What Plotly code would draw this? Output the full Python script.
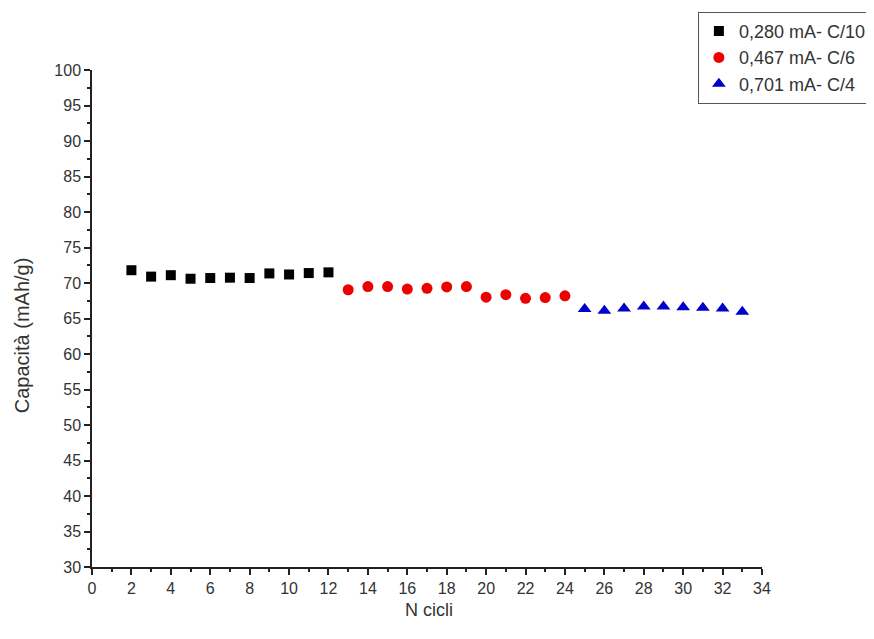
import plotly.graph_objects as go

# Data
cycles_c10 = [2, 3, 4, 5, 6, 7, 8, 9, 10, 11, 12]
cap_c10 = [71.8, 70.9, 71.1, 70.6, 70.7, 70.75, 70.7, 71.35, 71.2, 71.4, 71.5]

cycles_c6 = [13, 14, 15, 16, 17, 18, 19, 20, 21, 22, 23, 24]
cap_c6 = [69.05, 69.5, 69.5, 69.15, 69.25, 69.45, 69.5, 68.0, 68.35, 67.85, 67.95, 68.2]

cycles_c4 = [25, 26, 27, 28, 29, 30, 31, 32, 33]
cap_c4 = [66.35, 66.1, 66.4, 66.7, 66.7, 66.6, 66.5, 66.4, 65.95]

labels = ["0,280 mA- C/10", "0,467 mA- C/6", "0,701 mA- C/4"]

FONT = "Liberation Sans, Arial, sans-serif"

fig = go.Figure()
fig.add_trace(go.Scatter(x=cycles_c10, y=cap_c10, mode="markers", name=labels[0],
                         marker=dict(symbol="square", size=10, color="black")))
fig.add_trace(go.Scatter(x=cycles_c6, y=cap_c6, mode="markers", name=labels[1],
                         marker=dict(symbol="circle", size=11, color="#ee0000")))
fig.add_trace(go.Scatter(x=cycles_c4, y=cap_c4, mode="markers", name=labels[2],
                         marker=dict(symbol="triangle-up", size=12, color="#0000cc")))

axis_common = dict(showline=True, linecolor="#222", linewidth=1.5, ticks="outside",
                   ticklen=6, tickwidth=1.5, tickcolor="#222", showgrid=False,
                   zeroline=False, tickfont=dict(family=FONT, size=16, color="#333"))

fig.update_xaxes(range=[0, 34], dtick=2, tick0=0,
                 minor=dict(dtick=1, ticks="outside", ticklen=3, tickcolor="#222", tickwidth=1.5),
                 **axis_common)
fig.update_yaxes(range=[30, 100], dtick=5, tick0=30,
                 minor=dict(dtick=2.5, ticks="outside", ticklen=3, tickcolor="#222", tickwidth=1.5),
                 **axis_common)

fig.add_annotation(text="N cicli", xref="paper", yref="paper", x=0.503, y=-0.086,
                   xanchor="center", yanchor="middle", showarrow=False,
                   font=dict(family=FONT, size=18, color="#333"))
fig.add_annotation(text="Capacità (mAh/g)", xref="paper", yref="paper", x=-0.104, y=0.467,
                   xanchor="center", yanchor="middle", textangle=-90, showarrow=False,
                   font=dict(family=FONT, size=20, color="#333"))

# The page body adds an 8px offset, so the figure is 8px smaller than the window.
fig.update_layout(
    width=866, height=631,
    margin=dict(l=84, r=112, t=62, b=72, autoexpand=False),
    plot_bgcolor="white", paper_bgcolor="white",
    showlegend=True,
    legend=dict(x=1.164, xanchor="right", y=1.117, yanchor="top",
                bordercolor="#555", borderwidth=1, bgcolor="white",
                font=dict(family=FONT, size=18, color="#333"),
                itemwidth=30, tracegroupgap=0),
)

fig.write_html("out.html")
